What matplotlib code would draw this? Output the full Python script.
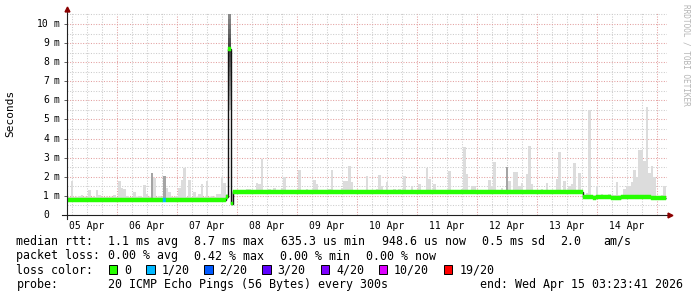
import numpy as np
import matplotlib
matplotlib.use("Agg")
import matplotlib.pyplot as plt
import matplotlib.transforms as mtransforms
from matplotlib.patches import Rectangle

# one bucket per hour, hours counted from 05 Apr 00:00
first_hour = 3.4

# top of the smoke (slowest ping of the hour), ms
smoke_max = [
    1.4, 0.95, 1.8, 0.95, 0.95, 1.0, 1.05, 0.95, 0.95, 1.3, 0.95, 0.95,
    1.3, 1.05, 0.95, 0.95, 0.95, 0.95, 0.95, 1.05, 0.95, 1.78, 1.43, 1.36,
    1.0, 0.95, 0.95, 1.2, 0.95, 1.0, 0.95, 1.57, 1.1, 0.95, 2.18, 1.95,
    0.95, 1.0, 0.95, 2.06, 1.4, 1.2, 0.95, 0.95, 1.0, 1.4, 1.83, 2.48,
    0.95, 1.83, 0.95, 1.2, 0.95, 1.1, 1.62, 0.95, 1.8, 0.95, 1.0, 0.95,
    1.1, 1.1, 1.97, 1.7, 1.1, 10.5, 1.25, 1.32, 1.32, 1.3, 1.32, 1.3,
    1.35, 1.35, 1.32, 1.3, 1.7, 1.6, 2.92, 1.3, 1.32, 1.35, 1.3, 1.4,
    1.32, 1.3, 1.42, 2.0, 1.32, 1.3, 1.32, 1.3, 1.32, 2.36, 1.32, 1.3,
    1.35, 1.3, 1.32, 1.83, 1.6, 1.3, 1.32, 1.3, 1.32, 1.35, 2.36, 1.3,
    1.32, 1.3, 1.4, 1.78, 1.78, 2.57, 1.75, 1.32, 1.3, 1.32, 1.3, 1.32,
    2.04, 1.32, 1.3, 1.32, 1.35, 2.09, 1.5, 1.32, 1.74, 1.3, 1.32, 1.38,
    1.3, 1.35, 1.32, 2.04, 1.32, 1.3, 1.5, 1.32, 1.3, 1.62, 1.32, 1.3,
    2.48, 1.88, 1.32, 1.62, 1.3, 1.32, 1.3, 1.32, 1.3, 2.3, 1.32, 1.3,
    1.32, 1.3, 1.38, 3.54, 2.15, 1.32, 1.5, 1.5, 1.32, 1.3, 1.32, 1.3,
    1.32, 1.83, 1.5, 2.76, 1.32, 1.3, 1.4, 1.3, 2.53, 1.8, 1.32, 2.24,
    2.24, 1.52, 1.66, 1.32, 2.15, 3.61, 1.6, 1.32, 1.3, 1.32, 1.38, 1.3,
    1.66, 1.32, 1.3, 1.32, 1.88, 3.32, 1.32, 1.78, 1.32, 1.5, 1.6, 2.74,
    1.32, 2.18, 1.25, 1.05, 1.15, 5.5, 1.05, 1.05, 1.54, 1.05, 1.08, 1.05,
    1.05, 1.08, 1.05, 1.05, 1.74, 1.05, 1.05, 1.36, 1.52, 1.52, 1.74, 2.36,
    2.0, 3.4, 3.4, 2.83, 5.67, 2.18, 2.57, 2.0, 1.0, 1.0, 1.05, 1.52,
]

# median rtt per hour, ms
median_rtt = [
    0.78, 0.78, 0.78, 0.78, 0.78, 0.78, 0.78, 0.78, 0.78, 0.78, 0.78, 0.78,
    0.78, 0.78, 0.78, 0.78, 0.78, 0.78, 0.78, 0.78, 0.78, 0.78, 0.78, 0.78,
    0.78, 0.78, 0.78, 0.78, 0.78, 0.78, 0.78, 0.78, 0.78, 0.78, 0.78, 0.78,
    0.78, 0.78, 0.78, 0.78, 0.78, 0.78, 0.78, 0.78, 0.78, 0.78, 0.78, 0.78,
    0.78, 0.78, 0.78, 0.78, 0.78, 0.78, 0.78, 0.78, 0.78, 0.78, 0.78, 0.78,
    0.78, 0.78, 0.78, 0.78, 0.95, 8.7, 0.6, 1.2, 1.2, 1.2, 1.22, 1.22,
    1.22, 1.22, 1.2, 1.2, 1.2, 1.2, 1.2, 1.2, 1.2, 1.2, 1.2, 1.2,
    1.2, 1.2, 1.2, 1.2, 1.2, 1.2, 1.2, 1.2, 1.2, 1.22, 1.22, 1.2,
    1.2, 1.2, 1.2, 1.2, 1.2, 1.2, 1.2, 1.2, 1.2, 1.2, 1.2, 1.2,
    1.2, 1.2, 1.2, 1.2, 1.2, 1.2, 1.2, 1.2, 1.2, 1.2, 1.2, 1.2,
    1.2, 1.2, 1.2, 1.2, 1.2, 1.2, 1.2, 1.2, 1.2, 1.2, 1.2, 1.2,
    1.2, 1.2, 1.2, 1.2, 1.2, 1.2, 1.2, 1.2, 1.2, 1.2, 1.2, 1.2,
    1.2, 1.2, 1.2, 1.2, 1.2, 1.2, 1.2, 1.2, 1.2, 1.2, 1.2, 1.2,
    1.2, 1.2, 1.2, 1.2, 1.2, 1.2, 1.2, 1.2, 1.2, 1.2, 1.2, 1.2,
    1.2, 1.2, 1.2, 1.2, 1.2, 1.2, 1.2, 1.2, 1.2, 1.2, 1.2, 1.2,
    1.2, 1.2, 1.2, 1.2, 1.2, 1.2, 1.2, 1.2, 1.2, 1.2, 1.2, 1.2,
    1.2, 1.2, 1.2, 1.2, 1.2, 1.2, 1.2, 1.2, 1.2, 1.2, 1.2, 1.2,
    1.2, 1.2, 1.2, 0.95, 0.95, 0.95, 0.95, 0.9, 0.95, 0.95, 0.95, 0.95,
    0.95, 0.95, 0.9, 0.9, 0.9, 0.9, 0.95, 0.95, 0.95, 0.95, 0.95, 0.95,
    0.95, 0.95, 0.95, 0.95, 0.95, 0.95, 0.9, 0.9, 0.9, 0.9, 0.9, 0.9,
]

# pings lost out of 20, per hour (only one hour had a loss)
lost_pings = [0] * 240
lost_pings[39] = 1

dark_smoke = [34, 39, 176]   # hours where the smoke is dense
spike_min = 5.5              # fastest ping in the 8.7 ms hour

days = ["05 Apr", "06 Apr", "07 Apr", "08 Apr", "09 Apr",
        "10 Apr", "11 Apr", "12 Apr", "13 Apr", "14 Apr"]
y_values = [0, 1, 2, 3, 4, 5, 6, 7, 8, 9, 10]

rtt_row = [("median rtt:", 16.5), ("1.1 ms avg", 108), ("8.7 ms max", 194),
           ("635.3 us min", 281), ("948.6 us now", 382), ("0.5 ms sd", 482),
           ("2.0", 560), ("am/s", 603)]
loss_row = [("packet loss:", 16.5), ("0.00 % avg", 108), ("0.42 % max", 194),
            ("0.00 % min", 280), ("0.00 % now", 366)]
loss_labels = ["0", "1/20", "2/20", "3/20", "4/20", "10/20", "19/20"]
loss_box_x = [108.5, 146, 204, 262, 320.5, 378.5, 444]
loss_colors = ["#26ff00", "#00b8ff", "#0059ff", "#5e00ff", "#7e00ff", "#dd00ff", "#ff0000"]
loss_limits = [0, 1, 2, 3, 4, 10, 19]
probe_text = "20 ICMP Echo Pings (56 Bytes) every 300s"
end_text = "end: Wed Apr 15 03:23:41 2026"

W, H = 697, 297
mono = "DejaVu Sans Mono"

fig = plt.figure(figsize=(W / 100, H / 100), dpi=100)
left, right, top, bottom = 66.5, 666.5, 12.5, 215
ax = fig.add_axes([left / W, 1 - bottom / H, (right - left) / W, (bottom - top) / H])
ax.set_xlim(3.8, 243.8)
ax.set_ylim(0, 10.6)
for s in ax.spines.values():
    s.set_visible(False)

# grid
for h in range(6, 244, 6):
    major = h % 24 == 0
    ax.axvline(h, color="#e3a0a0" if major else "#cccccc", lw=0.75,
               ls=(0, (1, 1.5)), zorder=1)
for v in np.arange(0.5, 10.6, 0.5):
    major = v == int(v)
    ax.axhline(v, color="#e3a0a0" if major else "#cccccc", lw=0.75,
               ls=(0, (1, 1.5)), zorder=1)

med = np.array(median_rtt)
smax = np.array(smoke_max)
x = first_hour + np.arange(len(med))
low = med - 0.06

# smoke
normal = med < 3
ax.bar(x[normal], (smax - low)[normal], bottom=low[normal], width=1, align="edge",
       color="#dcdcdc", lw=0, zorder=2)
for i in dark_smoke:
    ax.bar(x[i], smax[i] - low[i], bottom=low[i], width=1, align="edge",
           color="#a4a4a4", lw=0, zorder=2)
# the 8.7 ms hour: smoke darkest around the median, fading both ways
for i in np.where(~normal)[0]:
    edges = np.linspace(spike_min, smax[i], 21)
    mids = (edges[:-1] + edges[1:]) / 2
    far = max(med[i] - spike_min, smax[i] - med[i])
    shades = 0.25 + 0.55 * np.abs(mids - med[i]) / far
    for k in range(20):
        ax.bar(x[i], edges[k + 1] - edges[k], bottom=edges[k], width=1, align="edge",
               color=str(shades[k]), lw=0, zorder=3)

# median line and loss-coloured band
ax.stairs(med, np.append(x, x[-1] + 1), baseline=None, color="#111111", lw=1, zorder=4)
band_colors = [loss_colors[np.searchsorted(loss_limits, n, side="right") - 1] for n in lost_pings]
ax.bar(x, 0.19, bottom=med - 0.095, width=1, align="edge", color=band_colors,
       edgecolor=band_colors, lw=0.3, zorder=5)

# axes with arrows
ax.plot([left / W, left / W], [1 - 219 / H, 1 - 9 / H], color="#202020", lw=0.8,
        transform=fig.transFigure, clip_on=False, zorder=6)
ax.plot([62 / W, 670 / W], [1 - bottom / H, 1 - bottom / H], color="#202020", lw=0.8,
        transform=fig.transFigure, clip_on=False, zorder=6)
ax.plot([left / W], [1 - 9 / H], marker="^", ms=3.5, color="#8b0000", mec="#8b0000",
        transform=fig.transFigure, clip_on=False, zorder=7)
ax.plot([670 / W], [1 - bottom / H], marker=">", ms=3.5, color="#8b0000", mec="#8b0000",
        transform=fig.transFigure, clip_on=False, zorder=7)

# x labels at noon
ax.set_xticks([12 + 24 * k for k in range(len(days))])
ax.set_xticklabels(days, fontfamily=mono, fontsize=7)
ax.tick_params(axis="x", length=0, pad=4)

# y labels drawn by hand so the digits line up like rrdtool does
ax.set_yticks(y_values)
ax.set_yticklabels([])
ax.tick_params(axis="y", length=2.5, width=0.7, color="#606060")
ytr = mtransforms.blended_transform_factory(fig.transFigure, ax.transData)
for v in y_values:
    ax.text(49 / W, v, str(v), transform=ytr, ha="right", va="center",
            fontfamily=mono, fontsize=7)
    if v:
        ax.text(54 / W, v, "m", transform=ytr, ha="left", va="center",
                fontfamily=mono, fontsize=7)

fig.text(10 / W, 1 - 113 / H, "Seconds", rotation=90, ha="center", va="center",
         fontfamily=mono, fontsize=8)
fig.text(686 / W, 1 - 4 / H, "RRDTOOL / TOBI OETIKER", rotation=270, ha="center",
         va="top", fontfamily=mono, fontsize=5.6, color="#b4b4b4")

# legend
fs = 8.4
for txt, px in rtt_row:
    fig.text(px / W, 1 - 245 / H, txt, fontfamily=mono, fontsize=fs, va="baseline")
for txt, px in loss_row:
    fig.text(px / W, 1 - 259.5 / H, txt, fontfamily=mono, fontsize=fs, va="baseline")
fig.text(16.5 / W, 1 - 273.5 / H, "loss color:", fontfamily=mono, fontsize=fs, va="baseline")
for lab, bx, col in zip(loss_labels, loss_box_x, loss_colors):
    fig.add_artist(Rectangle((bx / W, 1 - 273.5 / H), 8.5 / W, 9 / H, facecolor=col,
                             edgecolor="black", lw=0.7, transform=fig.transFigure))
    fig.text((bx + 15.5) / W, 1 - 273.5 / H, lab, fontfamily=mono, fontsize=fs, va="baseline")
fig.text(16.5 / W, 1 - 288 / H, "probe:", fontfamily=mono, fontsize=fs, va="baseline")
fig.text(108 / W, 1 - 288 / H, probe_text, fontfamily=mono, fontsize=fs, va="baseline")
fig.text(480 / W, 1 - 288 / H, end_text, fontfamily=mono, fontsize=fs, va="baseline")

fig.savefig("out.png", dpi=100)
